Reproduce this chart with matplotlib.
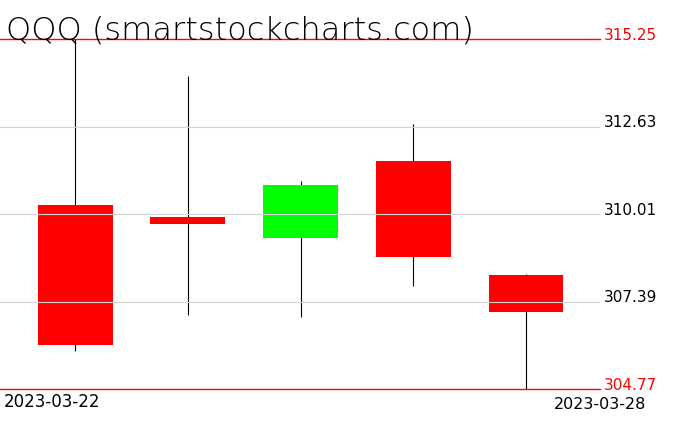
import matplotlib
matplotlib.use("Agg")
import matplotlib.pyplot as plt
import numpy as np

# daily candles
dates = ["2023-03-22", "2023-03-23", "2023-03-24", "2023-03-27", "2023-03-28"]
opens = [310.29, 309.92, 309.29, 311.60, 308.19]
highs = [315.25, 314.15, 311.00, 312.70, 308.21]
lows = [305.92, 307.00, 306.94, 307.86, 304.77]
closes = [306.10, 309.71, 310.89, 308.72, 307.09]

y_min, y_max = 304.77, 315.25
grid_ticks = [307.39, 310.01, 312.63]

W, H = 676, 431
fig = plt.figure(figsize=(W / 100, H / 100), dpi=100)
ax = fig.add_axes([0, 1 - 390 / H, 600 / W, 350 / H])

x = np.arange(len(dates))
body_w = 0.665

# wicks then bodies
ax.vlines(x, lows, highs, color="black", lw=0.8, zorder=2)
for i in range(len(dates)):
    lo, hi = sorted((opens[i], closes[i]))
    col = "#00ff00" if closes[i] > opens[i] else "#ff0000"
    ax.bar(x[i], hi - lo, bottom=lo, width=body_w, color=col, lw=0, zorder=3)

ax.set_xlim(-0.668, 4.657)
ax.set_ylim(y_min, y_max)
ax.axis("off")

# grey grid on top of bodies, red min/max lines
for t in grid_ticks:
    ax.axhline(t, color="#d3d3d3", lw=0.8, zorder=4)
for t in (y_min, y_max):
    ax.axhline(t, color="red", lw=1.0, zorder=5, clip_on=False)

tr = ax.get_yaxis_transform()
lab_x = 1 + 4 / 600
for t in grid_ticks:
    ax.text(lab_x, t, f"{t:.2f}", transform=tr, va="baseline", ha="left",
            fontsize=11, color="black", clip_on=False)
for t in (y_min, y_max):
    ax.text(lab_x, t, f"{t:.2f}", transform=tr, va="baseline", ha="left",
            fontsize=11, color="red", clip_on=False)

fig.text(6 / W, 1 - 40 / H, "QQQ (smartstockcharts.com)", fontsize=23,
         fontweight="light", color="black", va="baseline", ha="left")
fig.text(4 / W, 1 - 407 / H, dates[0], fontsize=12, va="baseline", ha="left")
fig.text(646 / W, 1 - 409 / H, dates[-1], fontsize=11.5, va="baseline", ha="right")

fig.savefig("out.png", dpi=100)
